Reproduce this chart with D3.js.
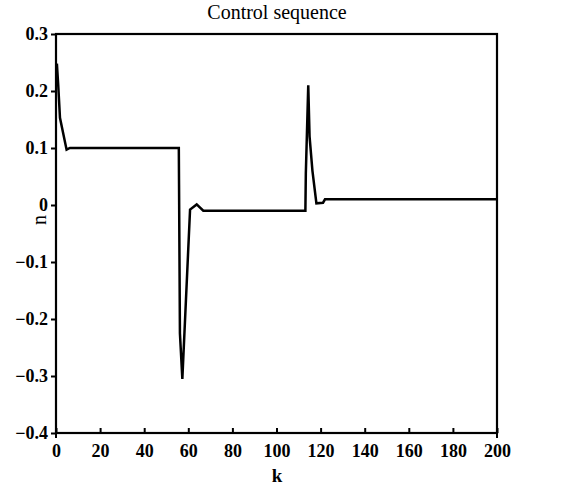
<!DOCTYPE html>
<html><head><meta charset="utf-8">
<script src="https://cdn.jsdelivr.net/npm/d3@7"></script>
<style>
body{margin:0;background:#fff}
svg text{font-family:"Liberation Serif","Times New Roman","DejaVu Serif",serif;}
</style>
</head><body>
<svg id="c" width="581" height="487"></svg>
<script>
const kValues = [0.4, 1.0, 1.8, 4.8, 6.3, 55.7, 55.8, 56.2, 57.3, 60.8, 63.8, 66.8, 113.1, 113.3, 114.4, 115.0, 116.3, 118.1, 121.1, 122.0, 200];
const uValues = [0.248, 0.211, 0.153, 0.097, 0.1, 0.1, 0.036, -0.225, -0.305, -0.008, 0.001, -0.01, -0.01, 0.055, 0.21, 0.12, 0.06, 0.003, 0.004, 0.01, 0.01];
const xTicks = [0, 20, 40, 60, 80, 100, 120, 140, 160, 180, 200];
const yTicks = [0.3, 0.2, 0.1, 0, -0.1, -0.2, -0.3, -0.4];
const title = "Control sequence";
const xLabel = "k";
const yLabel = "n";

const svg = d3.select("#c");
const L = 56, R = 497, T = 34, B = 433;
const x = d3.scaleLinear().domain([0, 200]).range([L, R]);
const y = d3.scaleLinear().domain([-0.4, 0.3]).range([B, T]);

// frame
svg.append("rect").attr("x", L).attr("y", T).attr("width", R - L).attr("height", B - T)
  .attr("fill", "none").attr("stroke", "#000").attr("stroke-width", 2.2);

// y axis
const ya = svg.append("g").attr("transform", `translate(${L},0)`)
  .call(d3.axisLeft(y).tickValues(yTicks).tickSize(5).tickPadding(3)
    .tickFormat(d => d === 0 ? "0" : d3.format(".1f")(d)));
ya.attr("font-family", null);
ya.select(".domain").remove();
ya.selectAll("line").attr("stroke", "#000").attr("stroke-width", 2);
ya.selectAll("text").attr("font-weight", "bold").attr("font-size", 18).attr("fill", "#000");

// x axis (ticks inward)
const xa = svg.append("g").attr("transform", `translate(0,${B})`)
  .call(d3.axisBottom(x).tickValues(xTicks).tickSizeInner(-5).tickSizeOuter(0).tickPadding(11)
    .tickFormat(d3.format("d")));
xa.attr("font-family", null);
xa.select(".domain").remove();
xa.selectAll("line").attr("stroke", "#000").attr("stroke-width", 2);
xa.selectAll("text").attr("font-weight", "bold").attr("font-size", 18).attr("fill", "#000");
// frame extensions below at ends
[0, 200].forEach(v => svg.append("line").attr("x1", x(v)).attr("x2", x(v)).attr("y1", B).attr("y2", B + 5)
  .attr("stroke", "#000").attr("stroke-width", 2));

// line
const data = kValues.map((k, i) => [k, uValues[i]]);
svg.append("path").datum(data)
  .attr("d", d3.line().x(d => x(d[0])).y(d => y(d[1])))
  .attr("fill", "none").attr("stroke", "#000").attr("stroke-width", 2.5).attr("stroke-linejoin", "miter");

// labels
svg.append("text").attr("x", 277).attr("y", 19).attr("text-anchor", "middle")
  .attr("font-size", 20).text(title);
svg.append("text").attr("x", 277).attr("y", 482).attr("text-anchor", "middle")
  .attr("font-size", 19).attr("font-weight", "bold").text(xLabel);
svg.append("text").attr("transform", "translate(46,220) rotate(-90)").attr("text-anchor", "middle")
  .attr("font-size", 20).text(yLabel);
</script>
</body></html>
